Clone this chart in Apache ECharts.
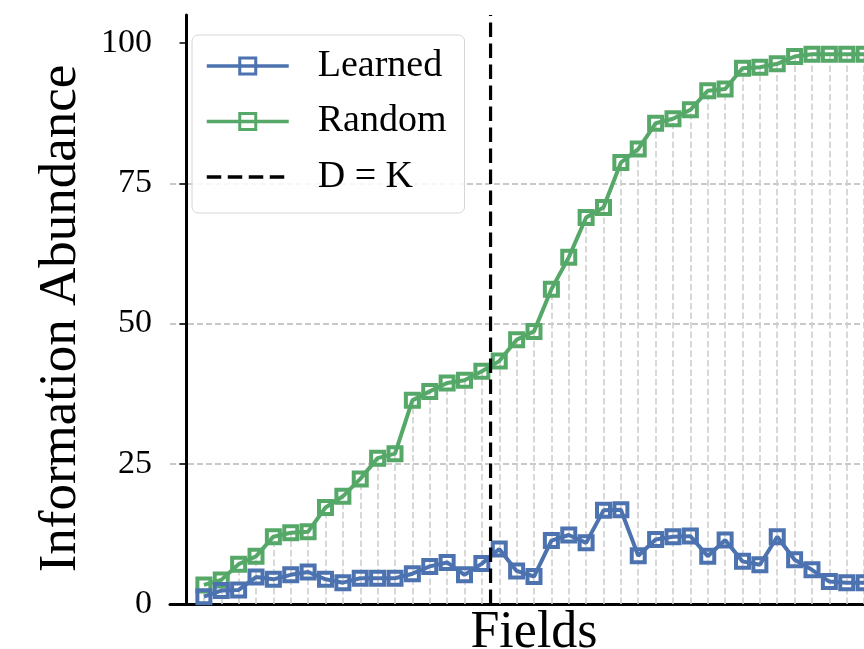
<!DOCTYPE html>
<html><head><meta charset="utf-8">
<script src="https://cdn.jsdelivr.net/npm/echarts@6/dist/echarts.min.js"></script>
<style>html,body{margin:0;padding:0;background:#fff}#c{width:864px;height:649px}</style>
</head><body><div id="c"></div>
<script>
const fields = [1,2,3,4,5,6,7,8,9,10,11,12,13,14,15,16,17,18,19,20,21,22,23,24,25,26,27,28,29,30,31,32,33,34,35,36,37,38,39];
const learned = [1.3,2.4,2.5,4.8,4.4,5.2,5.7,4.4,3.8,4.6,4.6,4.6,5.4,6.7,7.4,5.2,7.2,9.8,5.9,4.9,11.3,12.3,10.9,16.7,16.8,8.6,11.5,12.0,12.1,8.5,11.4,7.6,7.0,12.0,7.9,6.1,4.0,3.8,3.8];
const random = [3.4,4.3,7.1,8.5,12.0,12.7,12.9,17.2,19.2,22.3,26.0,26.8,36.3,37.9,39.4,39.9,41.5,43.3,47.1,48.6,56.1,61.8,68.9,70.7,78.7,81.1,85.7,86.5,88.1,91.5,91.8,95.5,95.7,96.3,97.6,98.0,98.0,98.0,98.0];
const yTicks = [0,25,50,75,100];
const yRange = [0, 105];
const boundaryDK = 17.5;

const FONT = 'Liberation Serif';
const BLUE = '#4c72b0', GREEN = '#55a868';
const chart = echarts.init(document.getElementById('c'), null, {renderer:'canvas'});
const pair = (xs, ys) => xs.map((x, i) => [x, ys[i]]);
chart.setOption({
  animation: false,
  backgroundColor: '#fff',
  grid: {left: 170, top: 15, width: 728, height: 589, outerBoundsMode: 'none', containLabel: false},
  legend: {
    orient: 'vertical', left: 192, top: 35,
    padding: [12, 18, 17, 13],
    itemWidth: 82, itemHeight: 20, itemGap: 17.5,
    backgroundColor: 'rgba(255,255,255,0.85)',
    borderColor: '#d6d6d6', borderWidth: 1, borderRadius: 6,
    textStyle: {fontFamily: FONT, fontSize: 38, color: '#000', padding: [0,0,0,24]},
    lineStyle: {width: 3.5},
    itemStyle: {borderWidth: 3},
    data: ['Learned', 'Random', 'D = K']
  },
  xAxis: {
    type: 'value', min: -0.95, max: 40.95,
    name: 'Fields', nameLocation: 'middle', nameGap: 3,
    nameTextStyle: {fontFamily: FONT, fontSize: 52, color: '#000'},
    axisLine: {show: true, onZero: false, lineStyle: {color: '#000', width: 3}},
    axisTick: {show: false}, axisLabel: {show: false}, splitLine: {show: false}
  },
  yAxis: {
    type: 'value', min: yRange[0], max: yRange[1], interval: 25,
    name: 'Information Abundance', nameLocation: 'middle', nameGap: 82,
    nameTextStyle: {fontFamily: FONT, fontSize: 53, color: '#000', padding: [0, 18, 0, 0]},
    axisLine: {show: true, lineStyle: {color: '#000', width: 3}},
    axisTick: {show: true, length: 7, lineStyle: {color: '#000', width: 1.5}, customValues: yTicks},
    axisLabel: {fontFamily: FONT, fontSize: 34, color: '#000', margin: 18, customValues: yTicks},
    splitLine: {show: true, showMaxLine: false, lineStyle: {color: '#b8b8b8', width: 1.5, type: [6, 3]}}
  },
  series: [
    {
      name: 'Random', type: 'line', data: pair(fields, random), z: 3,
      symbol: 'rect', symbolSize: 13,
      lineStyle: {color: GREEN, width: 4},
      itemStyle: {color: 'none', borderColor: GREEN, borderWidth: 4},
      markLine: {
        silent: true, symbol: 'none', label: {show: false}, z: 1,
        lineStyle: {color: '#cfcfcf', width: 1.6, type: [6.5, 3]},
        data: fields.map((x, i) => [{coord: [x, 0]}, {coord: [x, random[i]]}])
      }
    },
    {
      name: 'Learned', type: 'line', data: pair(fields, learned), z: 4,
      symbol: 'rect', symbolSize: 13,
      lineStyle: {color: BLUE, width: 4},
      itemStyle: {color: 'none', borderColor: BLUE, borderWidth: 4}
    },
    {
      name: 'D = K', type: 'line', data: [[boundaryDK, yRange[0]], [boundaryDK, yRange[1]]],
      symbol: 'none', symbolSize: 0, showSymbol: false, z: 5,
      lineStyle: {color: '#000', width: 3.2, type: [14.5, 6.5]},
      itemStyle: {color: '#000', opacity: 0}
    }
  ]
});
</script></body></html>
